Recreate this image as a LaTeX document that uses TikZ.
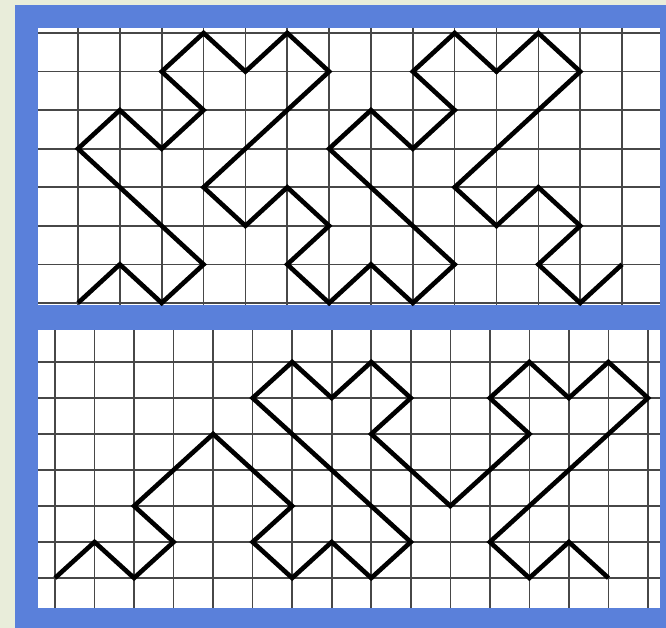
\documentclass[tikz,border=0pt]{standalone}
\definecolor{bgcol}{HTML}{E9EDDA}
\definecolor{framecol}{HTML}{5A80DA}
\tikzset{
  gridline/.style={line width=1.6pt, draw=black!72},
  curve/.style={line width=4.6pt, draw=black, line join=miter}
}
\begin{document}
\begin{tikzpicture}[x=1pt,y=-1pt]
\useasboundingbox (0,0) rectangle (666,628);
\fill[bgcol] (0,0) rectangle (666,628);
\fill[framecol] (15,5) rectangle (666,628);
\fill[white] (38,28) rectangle (660,305);
\fill[white] (38,330) rectangle (660,608);
% top grid
\foreach \i in {0,...,13} \draw[gridline] ({78+41.85*\i},28) -- ({78+41.85*\i},305);
\foreach \j in {0,...,7} \draw[gridline] (38,{33+38.571*\j}) -- (660,{33+38.571*\j});
% bottom grid
\foreach \i in {0,...,15} \draw[gridline] ({55+39.53*\i},330) -- ({55+39.53*\i},608);
\foreach \j in {0,...,6} \draw[gridline] (38,{362+36*\j}) -- (660,{362+36*\j});
% top curve
\begin{scope}[shift={(78,33)}, x=41.85pt, y=-38.571pt]
\draw[curve] (0,7)--(1,6)--(2,7)--(3,6)--(0,3)--(1,2)--(2,3)--(3,2)--(2,1)--(3,0)--(4,1)--(5,0)--(6,1)--(3,4)--(4,5)--(5,4)--(6,5)--(5,6)--(6,7)
 --(7,6)--(8,7)--(9,6)--(6,3)--(7,2)--(8,3)--(9,2)--(8,1)--(9,0)--(10,1)--(11,0)--(12,1)--(9,4)--(10,5)--(11,4)--(12,5)--(11,6)--(12,7)--(13,6);
\end{scope}
% bottom curve
\begin{scope}[shift={(55,362)}, x=39.53pt, y=-36pt]
\draw[curve] (0,6)--(1,5)--(2,6)--(3,5)--(2,4)--(4,2)--(6,4)--(5,5)--(6,6)--(7,5)--(8,6)--(9,5)--(5,1)--(6,0)--(7,1)--(8,0)--(9,1)--(8,2)--(10,4)--(12,2)--(11,1)--(12,0)--(13,1)--(14,0)--(15,1)--(11,5)--(12,6)--(13,5)--(14,6);
\end{scope}
\end{tikzpicture}
\end{document}
